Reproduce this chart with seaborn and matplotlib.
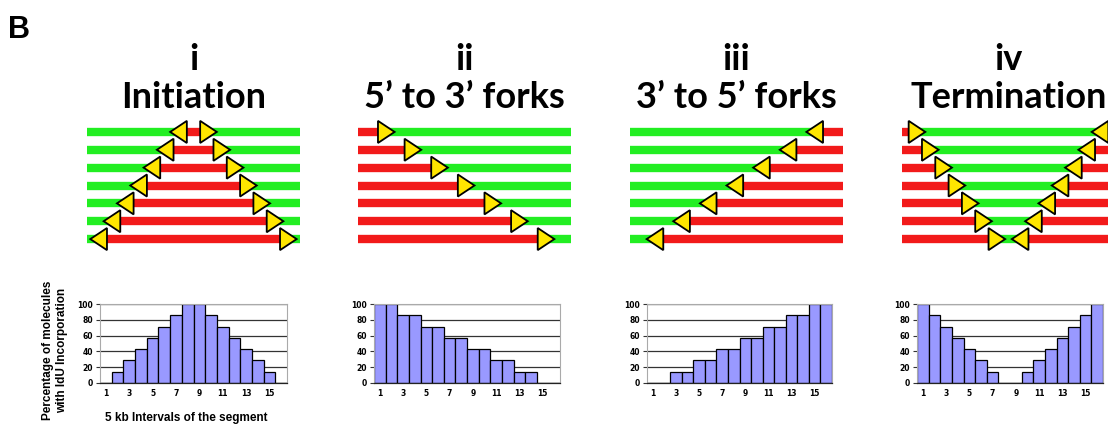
import pandas as pd
import seaborn as sns
import matplotlib.pyplot as plt
from matplotlib.patches import Polygon

# Dados dos histogramas (% de moléculas com IdU por intervalo de 5 kb)
intervalos = list(range(1, 17))
pct_iniciacao = [0, 14, 29, 43, 57, 71, 86, 100, 100, 86, 71, 57, 43, 29, 14, 0]
pct_53 = [100, 100, 86, 86, 71, 71, 57, 57, 43, 43, 29, 29, 14, 14, 0, 0]
pct_35 = [0, 0, 14, 14, 29, 29, 43, 43, 57, 57, 71, 71, 86, 86, 100, 100]
pct_terminacao = [100, 86, 71, 57, 43, 29, 14, 0, 0, 14, 29, 43, 57, 71, 86, 100]

# Posição dos garfos em cada molécula (unidades de 5 kb ao longo do segmento)
garfo_ini_esq = [7.5, 6.5, 5.5, 4.5, 3.5, 2.5, 1.5]
garfo_ini_dir = [8.5, 9.5, 10.5, 11.5, 12.5, 13.5, 14.5]
garfo_53 = [1.5, 3.5, 5.5, 7.5, 9.5, 11.5, 13.5]
garfo_35 = [14.5, 12.5, 10.5, 8.5, 6.5, 4.5, 2.5]
garfo_ter_esq = [0.5, 1.5, 2.5, 3.5, 4.5, 5.5, 6.5]
garfo_ter_dir = [15.5, 14.5, 13.5, 12.5, 11.5, 10.5, 9.5]

numerais = ['i', 'ii', 'iii', 'iv']
titulos = ['Initiation', '5’ to 3’ forks', '3’ to 5’ forks', 'Termination']
rotulos_x = ['1', '3', '5', '7', '9', '11', '13', '15']

comprimento = 16
VERDE = '#22ee22'
VERMELHO = '#f21a1a'
AMARELO = '#ffe600'
AZUL = '#9999ff'

sns.set_style('white')
plt.rcParams['font.family'] = ['Liberation Sans', 'DejaVu Sans']
plt.rcParams['text.color'] = 'black'
plt.rcParams['xtick.color'] = 'black'
plt.rcParams['ytick.color'] = 'black'

W, H = 1108, 424
fig = plt.figure(figsize=(W / 100, H / 100), dpi=100)


def eixo(x0, y0, x1, y1):
    # cria eixo a partir de coordenadas em pixels (origem no topo)
    return fig.add_axes([x0 / W, 1 - y1 / H, (x1 - x0) / W, (y1 - y0) / H])


def seta(ax, base, linha, direcao):
    tri = Polygon([(base, linha - 0.62), (base, linha + 0.62), (base + direcao * 1.25, linha)],
                  closed=True, facecolor=AMARELO, edgecolor='black', lw=1.3,
                  zorder=3, clip_on=False)
    ax.add_patch(tri)


def segmento(ax, a, b, linha, cor):
    ax.plot([a, b], [linha, linha], color=cor, lw=6, solid_capstyle='butt', zorder=1)


def esquema(ax, tipo):
    for k in range(7):
        if tipo == 0:
            e, d = garfo_ini_esq[k], garfo_ini_dir[k]
            segmento(ax, 0, e, k, VERDE)
            segmento(ax, e, d, k, VERMELHO)
            segmento(ax, d, comprimento, k, VERDE)
            seta(ax, e, k, -1)
            seta(ax, d, k, 1)
        elif tipo == 1:
            g = garfo_53[k]
            segmento(ax, 0, g, k, VERMELHO)
            segmento(ax, g, comprimento, k, VERDE)
            seta(ax, g, k, 1)
        elif tipo == 2:
            g = garfo_35[k]
            segmento(ax, 0, g, k, VERDE)
            segmento(ax, g, comprimento, k, VERMELHO)
            seta(ax, g, k, -1)
        else:
            e, d = garfo_ter_esq[k], garfo_ter_dir[k]
            segmento(ax, 0, e, k, VERMELHO)
            segmento(ax, e, d, k, VERDE)
            segmento(ax, d, comprimento, k, VERMELHO)
            seta(ax, e, k, 1)
            seta(ax, d, k, -1)
    ax.set_xlim(0, comprimento)
    ax.set_ylim(6.5, -0.5)
    ax.axis('off')


def histograma(ax, valores):
    df = pd.DataFrame({'intervalo': intervalos, 'pct': valores})
    sns.barplot(data=df, x='intervalo', y='pct', color=AZUL, saturation=1,
                edgecolor='black', linewidth=0.9, width=1.0, ax=ax, zorder=2)
    ax.set_xlim(-0.5, 15.5)
    ax.set_ylim(0, 100)
    ax.set_yticks(range(0, 101, 20))
    ax.yaxis.grid(True, color='#333333', lw=0.9)
    ax.set_axisbelow(True)
    ax.set_xticks(range(0, 16, 2))
    ax.set_xticklabels(rotulos_x)
    ax.set_xlabel('')
    ax.set_ylabel('')
    for lab in ax.get_xticklabels() + ax.get_yticklabels():
        lab.set_fontsize(5.5)
        lab.set_fontweight('bold')
        lab.set_family('DejaVu Sans')
        lab.set_color('black')
    ax.tick_params(axis='x', length=0, pad=4)
    ax.tick_params(axis='y', length=3, width=0.8, color='#333333', pad=2, left=True)
    for lado in ['left', 'right', 'top']:
        ax.spines[lado].set_color('#aaaaaa')
        ax.spines[lado].set_linewidth(0.8)
    ax.spines['bottom'].set_color('#222222')
    ax.spines['bottom'].set_linewidth(0.9)


# posições em pixels dos painéis
esquema_x = [87, 358, 630, 902]
hist_x = [(100, 287), (374, 560), (647, 832), (917, 1103)]
dados = [pct_iniciacao, pct_53, pct_35, pct_terminacao]

for i in range(4):
    ax_e = eixo(esquema_x[i], 123, esquema_x[i] + 213, 248)
    esquema(ax_e, i)

    ax_h = eixo(hist_x[i][0], 304, hist_x[i][1], 383)
    histograma(ax_h, dados[i])

    centro = esquema_x[i] + 106.5
    fig.text(centro / W, 1 - 70 / H, numerais[i], ha='center', va='baseline',
             fontsize=26, fontweight='bold', family='Lato', color='black')
    fig.text(centro / W, 1 - 108 / H, titulos[i], ha='center', va='baseline',
             fontsize=26, fontweight='bold', family='Lato', color='black')

fig.text(8 / W, 1 - 38 / H, 'B', ha='left', va='baseline', fontsize=22,
         fontweight='bold', color='black')
fig.text(55 / W, 1 - 350 / H, 'Percentage of molecules\nwith IdU Incorporation',
         rotation=90, ha='center', va='center', fontsize=8.5, fontweight='bold',
         linespacing=1.3, color='black')
fig.text(186 / W, 1 - 418 / H, '5 kb Intervals of the segment', ha='center', va='center',
         fontsize=8.5, fontweight='bold', color='black')

plt.savefig('out.png', dpi=100)
